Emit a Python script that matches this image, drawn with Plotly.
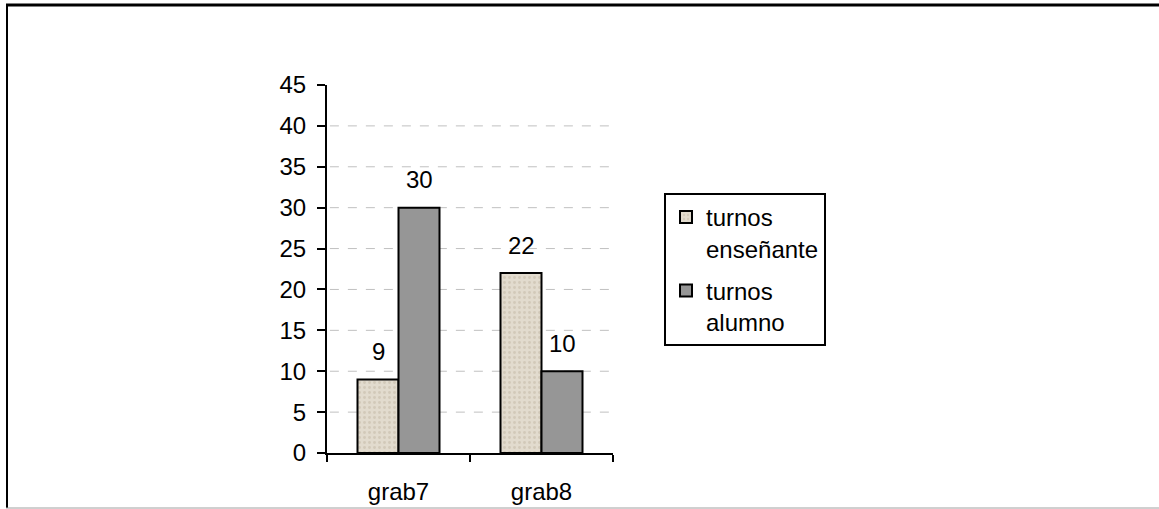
import plotly.graph_objects as go

categories = ["grab7", "grab8"]
series_names = ["turnos<br>enseñante", "turnos<br>alumno"]
ensenante = [9, 22]
alumno = [30, 10]
y_ticks = [0, 5, 10, 15, 20, 25, 30, 35, 40, 45]
grid_vals = [5, 10, 15, 20, 25, 30, 35, 40]

W, H = 1159, 509
L, R, T, B = 327, 613, 85, 453  # plot area in px
pw, ph = R - L, B - T

def px_x(x):
    return (x - L) / pw

def px_y(y):
    return (B - y) / ph

FONT = "Liberation Sans, Arial, sans-serif"
FS = 24
beige = "#E2DBCE"
gray = "#969696"

fig = go.Figure()
fig.add_trace(go.Bar(x=categories, y=ensenante, name=series_names[0], legendgroup="a",
                     marker=dict(color=beige, line=dict(color="black", width=2),
                                 pattern=dict(shape=".", fgcolor="#D2C9B9", bgcolor=beige,
                                              size=5, solidity=0.25, fillmode="replace"))))
fig.add_trace(go.Bar(x=categories, y=alumno, name=series_names[1], legendgroup="b",
                     marker=dict(color=gray, line=dict(color="black", width=2))))

shapes = []
for g in grid_vals:
    shapes.append(dict(type="line", xref="paper", yref="y", x0=0.01, x1=1.0, y0=g, y1=g,
                       line=dict(color="#C0C0C0", width=1, dash="dash"), layer="below"))
# outer frame
shapes.append(dict(type="line", xref="paper", yref="paper", x0=px_x(6), x1=px_x(W + 5),
                   y0=px_y(5), y1=px_y(5), line=dict(color="black", width=3)))
shapes.append(dict(type="line", xref="paper", yref="paper", x0=px_x(7), x1=px_x(7),
                   y0=px_y(4), y1=px_y(508), line=dict(color="black", width=2)))
shapes.append(dict(type="line", xref="paper", yref="paper", x0=px_x(6), x1=px_x(W + 5),
                   y0=px_y(508), y1=px_y(508), line=dict(color="#A0A0A0", width=1)))

annotations = []
bar_px = 41
for vals, shift in ((ensenante, -bar_px / 2), (alumno, bar_px / 2)):
    for c, v in zip(categories, vals):
        annotations.append(dict(x=c, y=v, text=str(v), showarrow=False, xshift=shift,
                                yshift=28, yanchor="middle",
                                font=dict(family=FONT, size=FS, color="black")))

fig.update_layout(
    width=W, height=H,
    margin=dict(l=L, r=W - R, t=T, b=H - B, autoexpand=False),
    paper_bgcolor="white", plot_bgcolor="white",
    barmode="group", bargap=0.4266, bargroupgap=0,
    font=dict(family=FONT, size=FS, color="black"),
    shapes=shapes, annotations=annotations,
    showlegend=True,
    legend=dict(x=px_x(664), y=px_y(193), xanchor="left", yanchor="top",
                bordercolor="black", borderwidth=2, bgcolor="white",
                font=dict(family=FONT, size=FS, color="black"),
                valign="top", tracegroupgap=8, itemwidth=30),
    xaxis=dict(type="category", showline=True, linecolor="black", linewidth=2,
               ticks="outside", tickson="boundaries", ticklen=7, tickwidth=2,
               tickcolor="black", showgrid=False, ticklabelstandoff=16),
    yaxis=dict(range=[0, 45], tickvals=y_ticks, showline=True, linecolor="black",
               linewidth=2, ticks="outside", ticklen=8, tickwidth=2, tickcolor="black",
               showgrid=False, zeroline=False, ticklabelstandoff=6),
)

fig.write_html("out.html", config={"displayModeBar": False},
               post_script="document.body.style.margin='0';")
